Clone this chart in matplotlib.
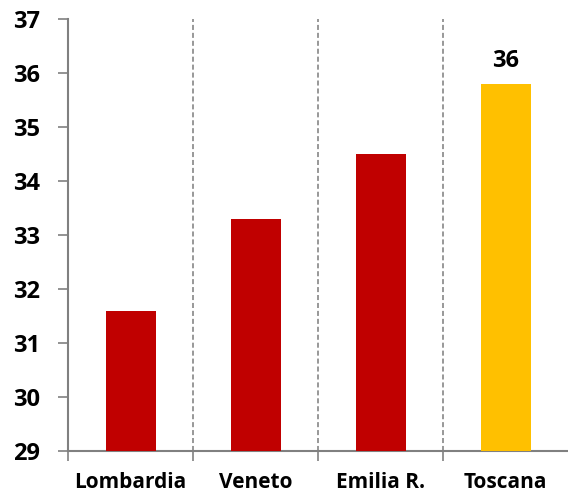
import matplotlib.pyplot as plt
import numpy as np

regions = ['Lombardia', 'Veneto', 'Emilia R.', 'Toscana']
values = [31.6, 33.3, 34.5, 35.8]
colors = ['#C00000', '#C00000', '#C00000', '#FFC000']
yticks = [29, 30, 31, 32, 33, 34, 35, 36, 37]

plt.rcParams['font.family'] = ['Open Sans', 'DejaVu Sans']
plt.rcParams['font.weight'] = 'bold'

fig = plt.figure(figsize=(5.68, 4.95), dpi=100)
ax = fig.add_axes([68 / 568, 1 - 451 / 495, 1 - 68 / 568, (451 - 19) / 495])

x = np.arange(len(regions))
ax.bar(x, values, width=0.4, color=colors, zorder=3)

# label only the last bar
ax.text(x[-1], 36.12, '36', ha='center', va='baseline', fontsize=17, fontweight='bold')

ax.set_xlim(-0.5, 3.5)
ax.set_ylim(29, 37)
ax.set_yticks(yticks)
ax.set_yticklabels([str(t) for t in yticks], fontsize=17, fontweight='bold')

# category boundaries as major ticks, names as minor ticks
ax.set_xticks([-0.5, 0.5, 1.5, 2.5])
ax.set_xticklabels([])
ax.set_xticks(x, minor=True)
ax.set_xticklabels(regions, minor=True, fontsize=15, fontweight='bold')
ax.tick_params(axis='x', which='minor', length=0, pad=15)
ax.tick_params(axis='x', which='major', length=7, width=1.2, color='#808080')
ax.tick_params(axis='y', length=7, width=1.2, color='#808080', pad=13)

for b in [0.5, 1.5, 2.5]:
    ax.axvline(b, color='#909090', linestyle='--', linewidth=1.3, dashes=(2.8, 1.6), zorder=1)

for s in ['top', 'right']:
    ax.spines[s].set_visible(False)
for s in ['left', 'bottom']:
    ax.spines[s].set_color('#808080')
    ax.spines[s].set_linewidth(1.5)

fig.savefig('out.png', dpi=100)
